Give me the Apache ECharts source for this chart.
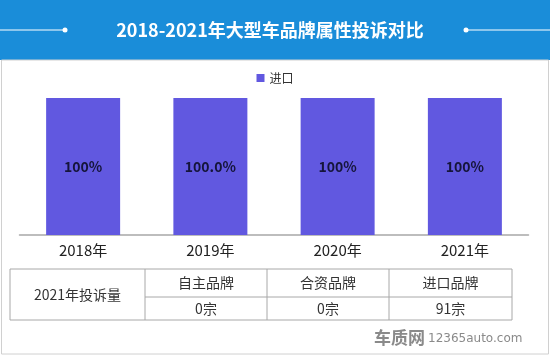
<!DOCTYPE html>
<html>
<head>
<meta charset="utf-8">
<script src="https://cdn.jsdelivr.net/npm/echarts@6/dist/echarts.min.js"></script>
<style>html,body{margin:0;padding:0;background:#fff;}#c{width:550px;height:356px;}</style>
</head>
<body>
<div id="c"></div>
<script>
const titleText = '2018-2021年大型车品牌属性投诉对比';
const categories = ['2018年', '2019年', '2020年', '2021年'];
const seriesName = '进口';
const values = [100, 100, 100, 100];
const valueLabels = ['100%', '100.0%', '100%', '100%'];
const tableRowHeader = '2021年投诉量';
const tableHeaders = ['自主品牌', '合资品牌', '进口品牌'];
const tableValues = ['0宗', '0宗', '91宗'];

const chart = echarts.init(document.getElementById('c'), null, {renderer: 'canvas'});
const font = '"Microsoft YaHei","Noto Sans CJK SC",sans-serif';

// table geometry
const colX = [10, 145, 267, 389, 512];
const rowY = [269, 297, 320];
const tableEls = [];
tableEls.push({type:'rect', shape:{x:colX[0], y:rowY[0], width:colX[4]-colX[0], height:rowY[2]-rowY[0]}, style:{fill:'#fff', stroke:'#a8a8a8', lineWidth:1}});
tableEls.push({type:'line', shape:{x1:colX[1], y1:rowY[0], x2:colX[1], y2:rowY[2]}, style:{stroke:'#a8a8a8', lineWidth:1}});
tableEls.push({type:'line', shape:{x1:colX[2], y1:rowY[0], x2:colX[2], y2:rowY[2]}, style:{stroke:'#a8a8a8', lineWidth:1}});
tableEls.push({type:'line', shape:{x1:colX[3], y1:rowY[0], x2:colX[3], y2:rowY[2]}, style:{stroke:'#a8a8a8', lineWidth:1}});
tableEls.push({type:'line', shape:{x1:colX[1], y1:rowY[1], x2:colX[4], y2:rowY[1]}, style:{stroke:'#a8a8a8', lineWidth:1}});
tableEls.push({type:'text', x:(colX[0]+colX[1])/2, y:(rowY[0]+rowY[2])/2, style:{text:tableRowHeader, fill:'#333', font:'14px '+font, textAlign:'center', textVerticalAlign:'middle'}});
for (let i=0;i<3;i++){
  tableEls.push({type:'text', x:(colX[i+1]+colX[i+2])/2, y:(rowY[0]+rowY[1])/2, style:{text:tableHeaders[i], fill:'#333', font:'14px '+font, textAlign:'center', textVerticalAlign:'middle'}});
  tableEls.push({type:'text', x:(colX[i+1]+colX[i+2])/2, y:(rowY[1]+rowY[2])/2, style:{text:tableValues[i], fill:'#333', font:'14px '+font, textAlign:'center', textVerticalAlign:'middle'}});
}

chart.setOption({
  backgroundColor:'#fff',
  animation:false,
  graphic:[
    {type:'rect', shape:{x:0,y:0,width:550,height:60}, style:{fill:'#1a8dd9'}, z:-1},
    {type:'rect', shape:{x:1.5,y:60,width:547,height:294}, style:{fill:'none', stroke:'#d0d0d0', lineWidth:1}, z:-1},
    {type:'line', shape:{x1:0,y1:30,x2:64,y2:30}, style:{stroke:'#ffffff', lineWidth:1}},
    {type:'circle', shape:{cx:65,cy:30,r:2.5}, style:{fill:'#ffffff'}},
    {type:'line', shape:{x1:466,y1:30,x2:550,y2:30}, style:{stroke:'#ffffff', lineWidth:1}},
    {type:'circle', shape:{cx:466,cy:30,r:2.5}, style:{fill:'#ffffff'}},
    {type:'text', x:270, y:30, style:{text:titleText, fill:'#ffffff', font:'bold 18px '+font, textAlign:'center', textVerticalAlign:'middle'}},
    ...tableEls,
    {type:'text', x:425, y:338, style:{text:'车质网', fill:'#8a8a8a', font:'bold 17px '+font, textAlign:'right', textVerticalAlign:'middle'}},
    {type:'text', x:428, y:339, style:{text:'12365auto.com', fill:'#8a8a8a', font:'12px "DejaVu Sans",sans-serif', textAlign:'left', textVerticalAlign:'middle'}}
  ],
  legend:{
    top:67, left:'center',
    itemWidth:8, itemHeight:8, itemGap:6,
    icon:'rect',
    textStyle:{color:'#333', fontSize:12, fontFamily:font},
    data:[seriesName]
  },
  grid:{left:19.5, right:21.5, top:98, bottom:121, containLabel:false},
  xAxis:{
    type:'category', data:categories,
    axisLine:{lineStyle:{color:'#a8a8a8', width:1.5}},
    axisTick:{show:false},
    axisLabel:{color:'#222', fontSize:15, fontFamily:font, margin:8}
  },
  yAxis:{type:'value', min:0, max:100, show:false, splitLine:{show:false}},
  series:[{
    name:seriesName, type:'bar', data:values, barWidth:74,
    itemStyle:{color:'#6158e0'},
    label:{show:true, position:'inside', color:'#15153a', fontSize:14, fontWeight:'bold', fontFamily:font,
      formatter:(p)=>valueLabels[p.dataIndex]}
  }]
});
</script>
</body>
</html>
